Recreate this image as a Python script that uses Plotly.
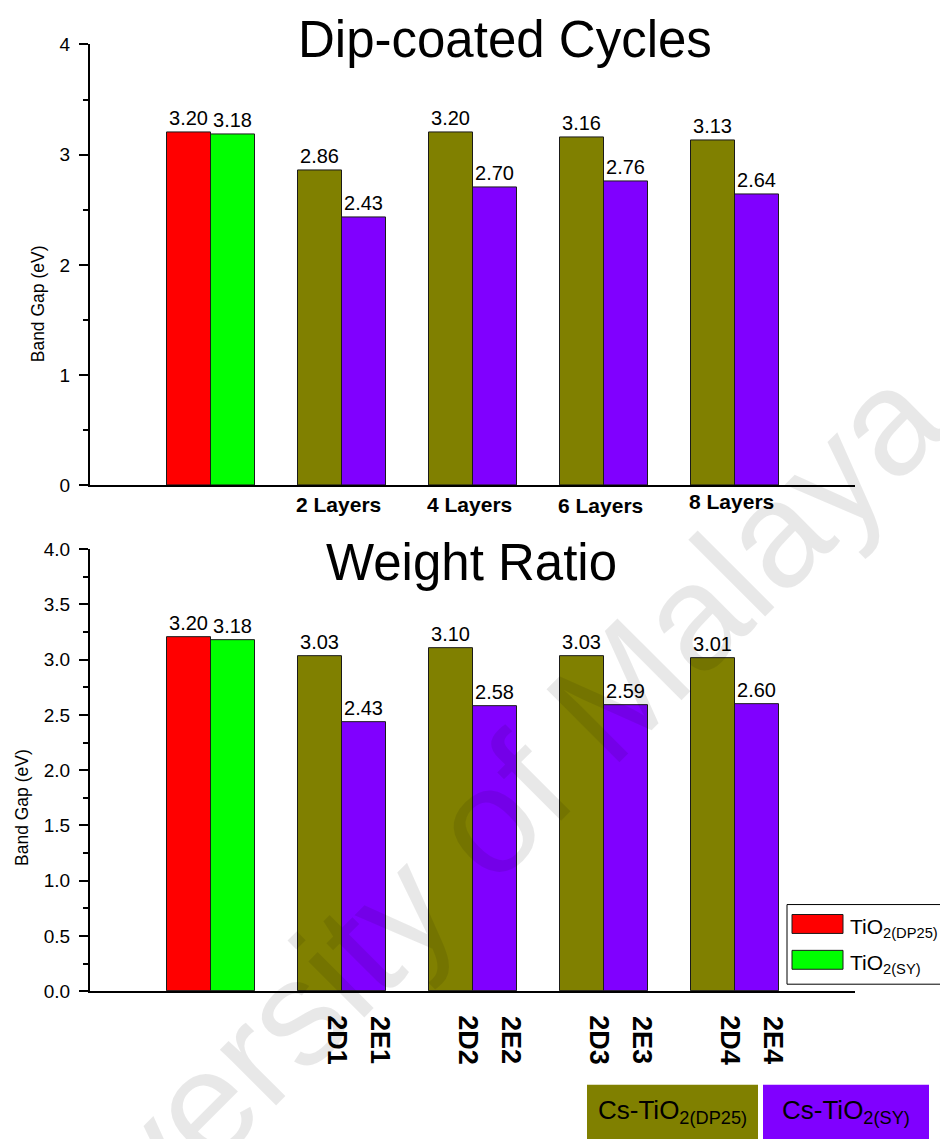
import plotly.graph_objects as go

W, H = 940, 1139
FONT = "Arial, Liberation Sans, sans-serif"

# ---------------- data ----------------
ref_labels = ["TiO<sub>2(DP25)</sub>", "TiO<sub>2(SY)</sub>"]
ref_values = [3.20, 3.18]

layer_labels = ["2 Layers", "4 Layers", "6 Layers", "8 Layers"]
layers_dp25 = [2.86, 3.20, 3.16, 3.13]
layers_sy = [2.43, 2.70, 2.76, 2.64]

ratio_labels_dp25 = ["2D1", "2D2", "2D3", "2D4"]
ratio_labels_sy = ["2E1", "2E2", "2E3", "2E4"]
ratio_dp25 = [3.03, 3.10, 3.03, 3.01]
ratio_sy = [2.43, 2.58, 2.59, 2.60]

top_title = "Dip-coated Cycles"
bottom_title = "Weight Ratio"
y_title = "Band Gap (eV)"
box_labels = ["Cs-TiO<sub>2(DP25)</sub>", "Cs-TiO<sub>2(SY)</sub>"]
watermark = "University of Malaya"

# ---------------- style ----------------
C_RED, C_GREEN, C_OLIVE, C_PURPLE = "#FF0000", "#00FF00", "#808000", "#8000FF"
BW = 0.336          # bar width (category units)
OFF = BW / 2

# the photographed page shows the figure shifted down ~8px and slightly squeezed vertically
Y_SHIFT, Y_SCALE = 8.4, 0.986


def px(x):
    return x / W


def py(y):
    return 1 - ((y - Y_SHIFT) / Y_SCALE) / H


groups = list(range(1, len(layer_labels) + 1))
left = [g - OFF for g in groups]
right = [g + OFF for g in groups]

fig = go.Figure()


def add_bars(x, y, color, xa, ya):
    fig.add_trace(go.Bar(
        x=x, y=y, width=BW, marker=dict(color=color, line=dict(color="#1a1a1a", width=1)),
        texttemplate="%{y:.2f}", textposition="outside", cliponaxis=False,
        constraintext="none", textfont=dict(size=20, color="black", family=FONT),
        xaxis=xa, yaxis=ya, showlegend=False, hoverinfo="x+y"))


for xa, ya, dp, sy in [("x", "y", layers_dp25, layers_sy), ("x2", "y2", ratio_dp25, ratio_sy)]:
    add_bars([-OFF], [ref_values[0]], C_RED, xa, ya)
    add_bars([OFF], [ref_values[1]], C_GREEN, xa, ya)
    add_bars(left, dp, C_OLIVE, xa, ya)
    add_bars(right, sy, C_PURPLE, xa, ya)

xr = [(90 - 211) / 131, (855 - 211) / 131]
xdom = [px(90), px(855)]

common_x = dict(range=xr, domain=xdom, showline=True, linecolor="black", linewidth=2,
                showgrid=False, zeroline=False, showticklabels=False, ticks="", fixedrange=True)
common_y = dict(range=[0, 4], showline=True, linecolor="black", linewidth=2, showgrid=False,
                zeroline=False, ticks="outside", ticklen=9, tickwidth=1.5, tickcolor="black",
                tickfont=dict(size=19, color="black", family=FONT), ticklabelstandoff=5,
                tick0=0, fixedrange=True)

fig.update_layout(
    width=W, height=H, autosize=False,
    margin=dict(l=0, r=0, t=0, b=0),
    paper_bgcolor="white", plot_bgcolor="rgba(0,0,0,0)",
    barmode="overlay", bargap=0,
    font=dict(family=FONT, color="black"),
    xaxis=dict(**common_x, anchor="y"),
    yaxis=dict(**common_y, domain=[py(486), py(43)], anchor="x", dtick=1,
               minor=dict(ticks="outside", ticklen=5, tickwidth=1.5, tickcolor="black", dtick=0.5)),
    xaxis2=dict(**common_x, anchor="y2"),
    yaxis2=dict(**common_y, domain=[py(994), py(550)], anchor="x2", dtick=0.5, tickformat=".1f",
                minor=dict(ticks="outside", ticklen=5, tickwidth=1.5, tickcolor="black", dtick=0.25)),
)

ann = []
# titles
ann.append(dict(text=top_title, x=px(505), y=py(38), xref="paper", yref="paper",
                showarrow=False, font=dict(size=51, family=FONT), xanchor="center", yanchor="middle"))
ann.append(dict(text=bottom_title, x=px(472), y=py(563), xref="paper", yref="paper",
                showarrow=False, font=dict(size=51, family=FONT), xanchor="center", yanchor="middle"))
# y titles
ann.append(dict(text=y_title, x=px(38), y=py(304), xref="paper", yref="paper", textangle=-90,
                showarrow=False, font=dict(size=17.5, family=FONT), xanchor="center", yanchor="middle"))
ann.append(dict(text=y_title, x=px(22), y=py(810), xref="paper", yref="paper", textangle=-90,
                showarrow=False, font=dict(size=17.5, family=FONT), xanchor="center", yanchor="middle"))
# layer labels (the last one sits a little higher in the original)
label_rows = [505, 505, 506, 502]
for g, lab, yy in zip(groups, layer_labels, label_rows):
    ann.append(dict(text=f"<b>{lab}</b>", x=g - 0.03, y=py(yy), xref="x", yref="paper",
                    showarrow=False, font=dict(size=21, family=FONT), xanchor="center", yanchor="middle"))
# rotated ratio labels
for g, a, b in zip(groups, ratio_labels_dp25, ratio_labels_sy):
    ann.append(dict(text=f"<b>{a}</b>", x=g - 0.04, y=py(1043), xref="x2", yref="paper", textangle=90,
                    showarrow=False, font=dict(size=27, family=FONT), xanchor="center", yanchor="middle"))
    ann.append(dict(text=f"<b>{b}</b>", x=g + 0.29, y=py(1043), xref="x2", yref="paper", textangle=90,
                    showarrow=False, font=dict(size=27, family=FONT), xanchor="center", yanchor="middle"))

shapes = []
# legend box
shapes.append(dict(type="rect", xref="paper", yref="paper", x0=px(787), x1=px(960), y0=py(987), y1=py(907),
                   line=dict(color="black", width=1), fillcolor="white"))
for (yt, yb), col, lab in zip([(917, 936), (953, 972)], [C_RED, C_GREEN], ref_labels):
    shapes.append(dict(type="rect", xref="paper", yref="paper", x0=px(792), x1=px(843), y0=py(yb), y1=py(yt),
                       line=dict(color="#1a1a1a", width=1), fillcolor=col))
    ann.append(dict(text=lab, x=px(848), y=py((yt + yb) / 2 + 4), xref="paper", yref="paper",
                    showarrow=False, font=dict(size=21, family=FONT), xanchor="left", yanchor="middle"))
# bottom boxes
for (x0, x1), col, lab in zip([(587, 758), (763, 929)], [C_OLIVE, C_PURPLE], box_labels):
    shapes.append(dict(type="rect", xref="paper", yref="paper", x0=px(x0), x1=px(x1), y0=py(1175), y1=py(1088),
                       line=dict(width=0), fillcolor=col))
    ann.append(dict(text=lab, x=px((x0 + x1) / 2), y=py(1115), xref="paper", yref="paper",
                    showarrow=False, font=dict(size=26, family=FONT), xanchor="center", yanchor="middle"))

# watermark
ann.append(dict(text=watermark, x=px(438), y=py(872), xref="paper", yref="paper",
                textangle=-45, showarrow=False, font=dict(size=150, family=FONT, color="rgba(0,0,0,0.09)"),
                xanchor="center", yanchor="middle"))

fig.update_layout(annotations=ann, shapes=shapes)
fig.write_html("out.html")
